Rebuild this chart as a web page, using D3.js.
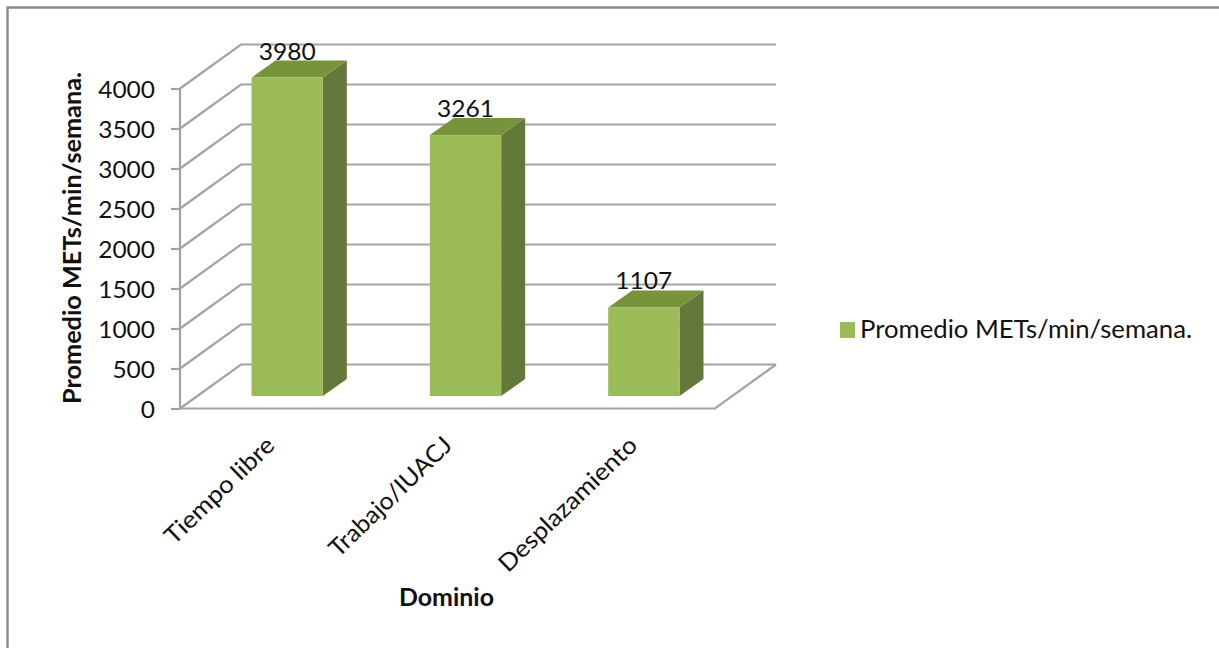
<!DOCTYPE html>
<html>
<head>
<meta charset="utf-8">
<script src="https://cdn.jsdelivr.net/npm/d3@7"></script>
<style>
html, body { margin: 0; padding: 0; background: #fff; }
svg { display: block; }
text { font-family: Lato, "Open Sans", sans-serif; fill: #111; }
</style>
</head>
<body>
<div id="chart"></div>
<script>
const categories = ["Tiempo libre", "Trabajo/IUACJ", "Desplazamiento"];
const values = [3980, 3261, 1107];
const tickValues = [0, 500, 1000, 1500, 2000, 2500, 3000, 3500, 4000];
const seriesName = "Promedio METs/min/semana.";
const xTitle = "Dominio";

const width = 1219, height = 648;
const wallColor = "#a3a3a3";
const frontColor = "#9bbb59", topColor = "#77933c", sideColor = "#64783a";

// Oblique projection: the wall sits behind the axis plane, the bars partway between.
const wall = { dx: 61, dy: -44 };
const barBase = { dx: 18, dy: -12.5 };
const barDepth = { dx: 24, dy: -17 };

// Rendered length and end-point nudge of each slanted category label
function categoryLabelLayout(i) {
  return [{ len: 142, nudge: -1 }, { len: 160, nudge: -2 }, { len: 182, nudge: 5 }][i];
}

const svg = d3.select("#chart").append("svg").attr("width", width).attr("height", height);

const x = d3.scaleBand().domain(categories).range([180, 715]).paddingInner(0.6).paddingOuter(0.3);
const y = d3.scaleLinear().domain([0, 4000]).range([408.5, 88.5]);

// Chart-area frame, open past the right and bottom edges
svg.append("path")
  .attr("d", `M7.5 ${height + 2}V7.5H${width + 2}`)
  .attr("fill", "none").attr("stroke", "#8c8c8c").attr("stroke-width", 2.4);

// Stretches a label to a measured width
function fit(sel, len) {
  return sel.attr("textLength", len).attr("lengthAdjust", "spacingAndGlyphs");
}

// Gridlines across side wall and back wall
const grid = svg.append("g").attr("fill", "none").attr("stroke", wallColor).attr("stroke-width", 2.2);
grid.selectAll("path").data(tickValues).join("path")
  .attr("d", d => `M180 ${y(d)}L${180 + wall.dx} ${y(d) + wall.dy}H${715 + wall.dx}`);
grid.append("path")
  .attr("d", `M180 ${y(0)}H715L${715 + wall.dx} ${y(0) + wall.dy}`);

// Value axis
const axis = svg.append("g").attr("transform", "translate(180,0)")
  .call(d3.axisLeft(y).tickValues(tickValues).tickFormat(d3.format("d")).tickSize(9).tickPadding(6));
axis.selectAll("path,line").attr("stroke", wallColor).attr("stroke-width", 2.2);
axis.select(".domain").attr("d", `M0 ${y(4000)}V${y(0)}`);
axis.selectAll("text")
  .attr("font-family", null).attr("font-size", 24)
  .attr("x", -25).attr("dy", "0.36em")
  .each(function (d) {
    const n = String(d).length;
    fit(d3.select(this), n * 14.2);
  });

// Bars: side face, top face, front face
const barX = d => x(d) + barBase.dx;
const barY = v => y(v) + barBase.dy;
const w = x.bandwidth();
const bars = svg.append("g").selectAll("g").data(categories).join("g");
const val = i => values[i];
bars.append("path").attr("fill", sideColor)
  .attr("d", (d, i) => {
    const r = barX(d) + w, t = barY(val(i)), b = barY(0);
    return `M${r} ${t}L${r + barDepth.dx} ${t + barDepth.dy}V${b + barDepth.dy}L${r} ${b}Z`;
  });
bars.append("path").attr("fill", topColor)
  .attr("d", (d, i) => {
    const l = barX(d), t = barY(val(i));
    return `M${l} ${t}L${l + barDepth.dx} ${t + barDepth.dy}H${l + w + barDepth.dx}L${l + w} ${t}Z`;
  });
bars.append("rect").attr("fill", frontColor)
  .attr("x", d => barX(d)).attr("width", w)
  .attr("y", (d, i) => barY(val(i)))
  .attr("height", (d, i) => barY(0) - barY(val(i)));

// Value labels sit on the rear edge of each bar top
bars.append("text")
  .attr("x", d => barX(d) + w / 2)
  .attr("y", (d, i) => barY(val(i)) - 18)
  .attr("text-anchor", "middle").attr("font-size", 24)
  .text((d, i) => val(i))
  .call(fit, 57);

// Category labels
svg.append("g").selectAll("text").data(categories).join("text")
  .attr("text-anchor", "end").attr("font-size", 24)
  .attr("transform", (d, i) => `translate(${barX(d) + w / 2 - 10 + categoryLabelLayout(i).nudge},447) rotate(-44)`)
  .text(d => d)
  .each(function (d, i) { fit(d3.select(this), categoryLabelLayout(i).len); });

// Axis titles
svg.append("text")
  .attr("transform", "translate(81,238) rotate(-90)")
  .attr("text-anchor", "middle").attr("font-size", 24).attr("font-weight", 700)
  .text(seriesName).call(fit, 332);
svg.append("text")
  .attr("x", 446.5).attr("y", 606)
  .attr("text-anchor", "middle").attr("font-size", 24).attr("font-weight", 700)
  .text(xTitle).call(fit, 95);

// Legend
svg.append("rect").attr("x", 840).attr("y", 322).attr("width", 15).attr("height", 16).attr("fill", frontColor);
svg.append("text").attr("x", 860).attr("y", 338).attr("font-size", 25)
  .text(seriesName).call(fit, 332);
</script>
</body>
</html>
